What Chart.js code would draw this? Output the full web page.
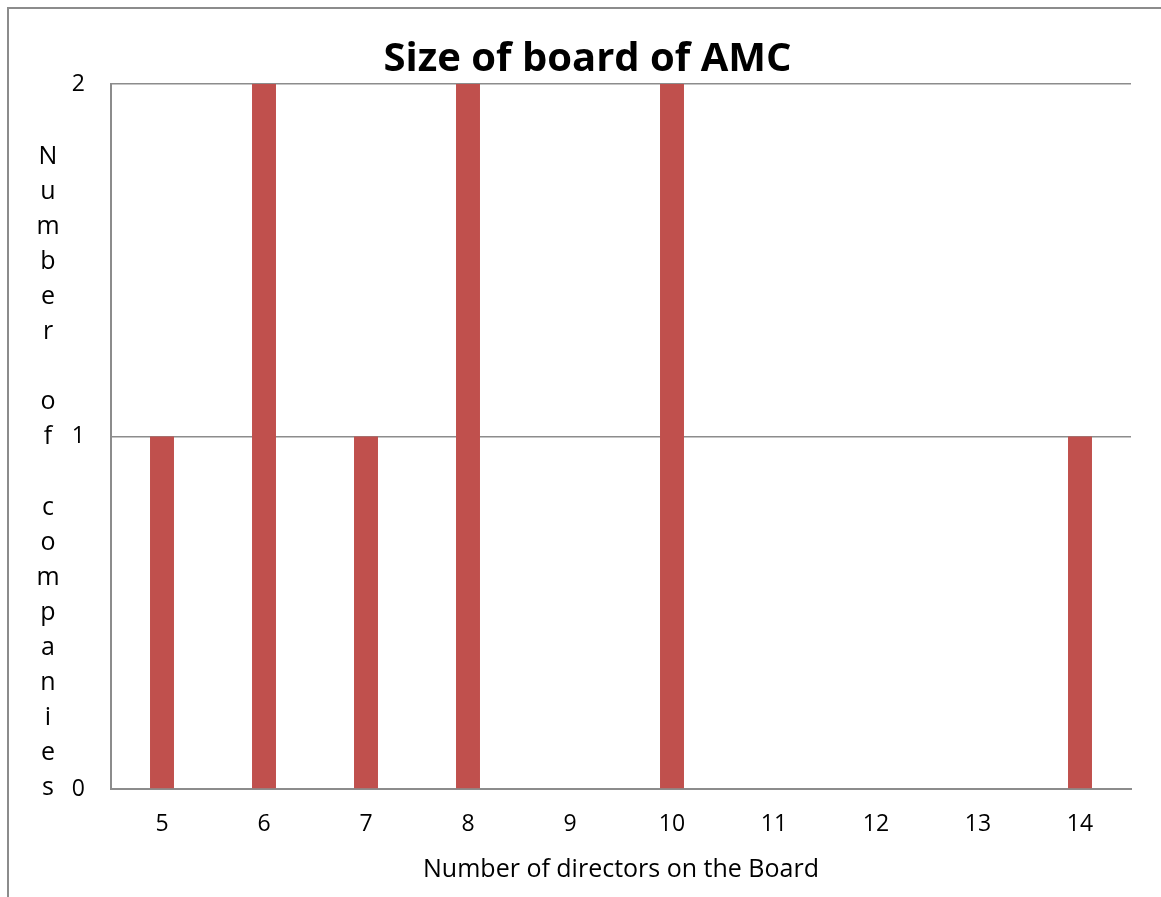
<!DOCTYPE html>
<html>
<head>
<meta charset="utf-8">
<script src="https://cdn.jsdelivr.net/npm/chart.js@4.4.1/dist/chart.umd.min.js"></script>
<style>
  html, body { margin: 0; padding: 0; background: #fff; }
  #wrap { position: absolute; left: 0; top: 0; width: 1161px; height: 897px; }
  #frame { position: absolute; left: 7px; top: 7px; width: 1154px; height: 890px;
           border-left: 2px solid #8c8c8c; border-top: 2px solid #8c8c8c; pointer-events: none; box-sizing: border-box; }
</style>
</head>
<body>
<div id="wrap">
  <canvas id="c" width="1161" height="897"></canvas>
  <div id="frame"></div>
</div>
<script>
const chartTitle = "Size of board of AMC";
const xAxisTitle = "Number of directors on the Board";
const yAxisTitle = "Number of companies";
const categories = ["5", "6", "7", "8", "9", "10", "11", "12", "13", "14"];
const companies = [1, 2, 1, 2, 0, 2, 0, 0, 0, 1];
const yTicks = [0, 1, 2];

const FONT = "'Open Sans', 'Noto Sans', sans-serif";
const AXIS_COLOR = "#8c8c8c";

const stackedYTitle = {
  id: "stackedYTitle",
  afterDraw(chart) {
    const { ctx, chartArea } = chart;
    const letters = Array.from(yAxisTitle);
    const first = chartArea.top + 80;
    const last = chartArea.bottom + 6;
    const step = (last - first) / (letters.length - 1);
    ctx.save();
    ctx.fillStyle = "#000";
    ctx.font = "25px " + FONT;
    ctx.textAlign = "center";
    ctx.textBaseline = "alphabetic";
    letters.forEach((ch, i) => {
      if (ch !== " ") ctx.fillText(ch, 48, first + i * step);
    });
    ctx.restore();
  }
};

new Chart(document.getElementById("c"), {
  type: "bar",
  data: {
    labels: categories,
    datasets: [{
      label: "Number of companies",
      data: companies,
      backgroundColor: "#C0504D",
      borderWidth: 0,
      barPercentage: 0.235,
      categoryPercentage: 1.0
    }]
  },
  options: {
    responsive: false,
    animation: false,
    layout: { padding: { left: 44, right: 30, top: 0, bottom: 0 } },
    plugins: {
      legend: { display: false },
      tooltip: { enabled: false },
      title: {
        display: true,
        text: chartTitle,
        color: "#000",
        font: { family: FONT, size: 40, weight: "bold" },
        padding: { top: 36, bottom: 0 }
      }
    },
    scales: {
      x: {
        type: "category",
        offset: true,
        grid: { display: false, drawTicks: false },
        border: { display: true, color: AXIS_COLOR, width: 2 },
        ticks: { color: "#000", font: { family: FONT, size: 23 }, padding: 22, maxRotation: 0 },
        title: {
          display: true, text: xAxisTitle, color: "#000",
          font: { family: FONT, size: 25 }, padding: { top: 0, bottom: 12 }
        },
        afterFit(scale) { scale.height = 108; }
      },
      y: {
        min: 0, max: 2,
        afterBuildTicks(scale) { scale.ticks = yTicks.map(v => ({ value: v })); },
        grid: { color: AXIS_COLOR, lineWidth: 1.5, drawTicks: false },
        border: { display: true, color: AXIS_COLOR, width: 2 },
        ticks: { color: "#000", font: { family: FONT, size: 23 }, padding: 26 },
        afterFit(scale) { scale.width = 67; }
      }
    }
  },
  plugins: [stackedYTitle]
});
</script>
</body>
</html>
